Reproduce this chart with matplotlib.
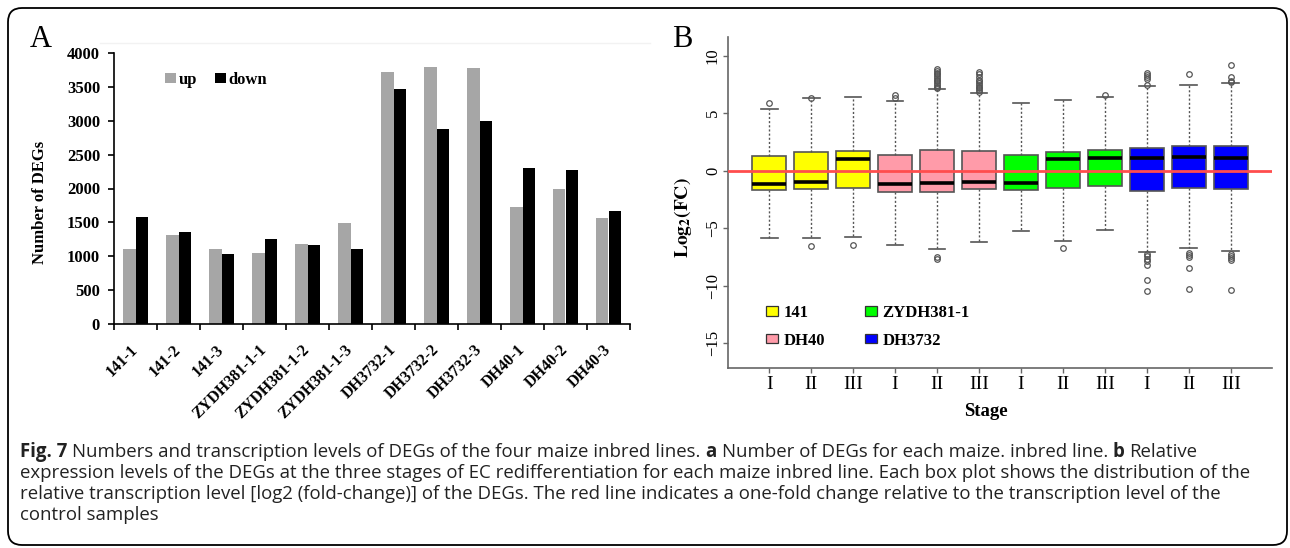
import matplotlib
matplotlib.use("Agg")
import matplotlib.pyplot as plt
import numpy as np
from matplotlib.patches import FancyBboxPatch, Patch

W, H, DPI = 1290, 548, 100
plt.rcParams['font.family'] = ['Liberation Serif', 'DejaVu Serif']
plt.rcParams['mathtext.fontset'] = 'stix'

# ---------------- Panel A data ----------------
samples = ['141-1', '141-2', '141-3', 'ZYDH381-1-1', 'ZYDH381-1-2', 'ZYDH381-1-3',
           'DH3732-1', 'DH3732-2', 'DH3732-3', 'DH40-1', 'DH40-2', 'DH40-3']
up_counts = [1110, 1315, 1110, 1055, 1175, 1495, 3720, 3790, 3780, 1725, 2000, 1565]
down_counts = [1572, 1360, 1035, 1255, 1160, 1105, 3475, 2875, 2995, 2300, 2275, 1665]
a_yticks = [0, 500, 1000, 1500, 2000, 2500, 3000, 3500, 4000]

# ---------------- Panel B data ----------------
stage_labels = ['I', 'II', 'III'] * 4
line_names = ['141', 'DH40', 'ZYDH381-1', 'DH3732']
line_colors = ['#FFFF00', '#FF9BA9', '#00FF00', '#0000FF']
box_line = [0, 0, 0, 1, 1, 1, 2, 2, 2, 3, 3, 3]
q1 = [-1.68, -1.57, -1.48, -1.86, -1.86, -1.60, -1.66, -1.48, -1.37, -1.74, -1.48, -1.57]
med = [-1.13, -1.02, 1.01, -1.16, -1.07, -1.02, -1.07, 0.96, 1.10, 1.05, 1.16, 1.10]
q3 = [1.30, 1.57, 1.68, 1.36, 1.77, 1.71, 1.39, 1.57, 1.77, 1.92, 2.12, 2.12]
whislo = [-5.90, -5.84, -5.78, -6.45, -6.79, -6.24, -5.26, -6.13, -5.17, -7.11, -6.74, -7.00]
whishi = [5.37, 6.30, 6.39, 6.04, 7.11, 6.74, 5.89, 6.13, 6.42, 7.32, 7.46, 7.64]
fliers = [
    [5.86],
    [6.33, -6.53],
    [-6.50],
    [6.33, 6.56],
    [7.15, 7.3, 7.45, 7.6, 7.75, 7.9, 8.05, 8.2, 8.35, 8.5, 8.65, 8.8, -7.5, -7.67],
    [6.85, 7.0, 7.15, 7.3, 7.45, 7.6, 7.75, 7.9, 8.1, 8.35, 8.6],
    [],
    [-6.77],
    [6.56],
    [7.4, 7.93, 8.16, 8.34, 8.51, -7.23, -7.46, -7.69, -7.87, -8.22, -9.55, -10.48],
    [8.42, -7.17, -7.35, -7.52, -8.45, -10.28],
    [7.7, 7.78, 8.16, 9.15, -7.23, -7.4, -7.58, -7.75, -10.42],
]
b_yticks = [-15, -10, -5, 0, 5, 10]

caption_lines = [
    [("Fig. 7", True), ("Numbers and transcription levels of DEGs of the four maize inbred lines.", False),
     ("a", True), ("Number of DEGs for each maize. inbred line.", False), ("b", True), ("Relative", False)],
    [("expression levels of the DEGs at the three stages of EC redifferentiation for each maize inbred line. "
      "Each box plot shows the distribution of the", False)],
    [("relative transcription level [log2 (fold-change)] of the DEGs. The red line indicates a one-fold change "
      "relative to the transcription level of the", False)],
    [("control samples", False)],
]

fig = plt.figure(figsize=(W / DPI, H / DPI), dpi=DPI)


def px_axes(l, t, r, b):
    return fig.add_axes([l / W, 1 - b / H, (r - l) / W, (b - t) / H])


bg = fig.add_axes([0, 0, 1, 1], zorder=-1)
bg.set_xlim(0, W)
bg.set_ylim(H, 0)
bg.axis('off')
bg.add_patch(FancyBboxPatch((8, 8), 1279, 537, boxstyle="round,pad=0,rounding_size=14",
                            fc='white', ec='black', lw=1.3))
bg.plot([100, 650], [43, 43], color='#f2f2f2', lw=1)

# ---------------- Panel A ----------------
axA = px_axes(114, 53, 630, 324)
axA.set_facecolor('none')
x = np.arange(len(samples)) + 0.5
bw = 0.29
axA.bar(x - bw / 2, up_counts, bw, color='#A6A6A6', label='up')
axA.bar(x + bw / 2, down_counts, bw, color='black', label='down')
axA.set_xlim(0, len(samples))
axA.set_ylim(0, 4000)
for s in ['top', 'right']:
    axA.spines[s].set_visible(False)
for s in ['left', 'bottom']:
    axA.spines[s].set_linewidth(1.2)
axA.set_yticks(a_yticks)
axA.set_yticklabels([str(v) for v in a_yticks], fontweight='bold', fontsize=12)
axA.tick_params(axis='y', length=4, width=1.2, pad=6)
axA.set_xticks(x)
axA.set_xticklabels(samples, rotation=45, ha='right', va='center', rotation_mode='anchor',
                    fontweight='bold', fontsize=11.5)
axA.tick_params(axis='x', which='major', length=0, pad=17)
axA.set_xticks(np.arange(len(samples) + 1), minor=True)
axA.tick_params(axis='x', which='minor', length=4, width=1.2)
axA.legend(loc='upper left', bbox_to_anchor=(165 / W, 1 - 72 / H), bbox_transform=fig.transFigure,
           ncol=2, frameon=False, prop={'weight': 'bold', 'size': 12}, handlelength=0.66,
           handleheight=0.6, handletextpad=0.15, columnspacing=1.1, borderpad=0, borderaxespad=0)

bg.text(30, 47, 'A', fontsize=22, ha='left', va='baseline')
bg.text(40, 202, 'Number of DEGs', rotation=90, ha='center', va='center', fontweight='bold', fontsize=12)

# ---------------- Panel B ----------------
axB = px_axes(728, 37, 1272, 368)
axB.set_facecolor('none')
stats = [dict(med=m, q1=a, q3=b, whislo=lo, whishi=hi, fliers=f)
         for m, a, b, lo, hi, f in zip(med, q1, q3, whislo, whishi, fliers)]
pos = np.arange(1, len(stats) + 1)
bp = axB.bxp(stats, positions=pos, widths=0.8, capwidths=0.4, patch_artist=True, showfliers=True,
             boxprops=dict(edgecolor='#555555', linewidth=1.2),
             medianprops=dict(color='black', linewidth=2.6),
             whiskerprops=dict(color='#555555', linewidth=1.0, linestyle=(0, (1.5, 1.5))),
             capprops=dict(color='#555555', linewidth=1.2),
             flierprops=dict(marker='o', markersize=4, markerfacecolor='none',
                             markeredgecolor='#555555', markeredgewidth=0.9))
for patch, li in zip(bp['boxes'], box_line):
    patch.set_facecolor(line_colors[li])
axB.axhline(0, color='#FF4D4D', lw=2, zorder=5)
axB.set_xlim(0.02, 12.98)
axB.set_ylim(-17.17, 11.61)
for s in ['top', 'right']:
    axB.spines[s].set_visible(False)
for s in ['left', 'bottom']:
    axB.spines[s].set_linewidth(1.2)
    axB.spines[s].set_color('#666666')
axB.set_yticks(b_yticks)
axB.set_yticklabels([str(v).replace('-', '\u2212') for v in b_yticks], rotation=90, va='center', fontsize=12)
axB.tick_params(axis='y', length=3.6, width=1, color='#666666', pad=1.5)
axB.set_xticks(pos)
axB.set_xticklabels(stage_labels, fontsize=14)
axB.tick_params(axis='x', length=3.6, width=1, color='#666666', pad=2)
handlesB = [Patch(facecolor=c, edgecolor='#333333', linewidth=0.9) for c in line_colors]
axB.legend(handlesB, line_names, loc='upper left', bbox_to_anchor=(766 / W, 1 - 305 / H),
           bbox_transform=fig.transFigure, ncol=2, frameon=False, prop={'weight': 'bold', 'size': 12},
           handlelength=0.72, handleheight=0.48, handletextpad=0.36, columnspacing=2.35,
           labelspacing=0.7, borderpad=0, borderaxespad=0)

bg.text(672, 47, 'B', fontsize=22, ha='left', va='baseline')
bg.text(683, 218, r'$\mathbf{Log_2(FC)}$', rotation=90, ha='center', va='center', fontsize=14)
bg.text(986, 412, 'Stage', ha='center', va='center', fontweight='bold', fontsize=13.5)

# ---------------- Caption ----------------
renderer = fig.canvas.get_renderer()
cap_family = ['Open Sans', 'DejaVu Sans']


def text_w(s, fs, bold):
    t = bg.text(0, 0, s, fontsize=fs, fontweight='bold' if bold else 'normal', family=cap_family)
    w = t.get_window_extent(renderer).width
    t.remove()
    return w


def line_width(pieces, fs):
    sp = text_w('x x', fs, False) - text_w('xx', fs, False)
    return sum(text_w(p, fs, b) for p, b in pieces) + sp * (len(pieces) - 1)


fs0 = 11.0
fs = fs0 * 1180 / line_width(caption_lines[0], fs0)
space = text_w('x x', fs, False) - text_w('xx', fs, False)
row_y = [452, 473, 494, 515]
for pieces, yy in zip(caption_lines, row_y):
    xx = 20
    for p, b in pieces:
        t = bg.text(xx, yy, p, fontsize=fs, fontweight='bold' if b else 'normal', family=cap_family,
                    ha='left', va='center', color='#222222')
        xx += t.get_window_extent(renderer).width + space

fig.savefig('out.png', dpi=DPI)
